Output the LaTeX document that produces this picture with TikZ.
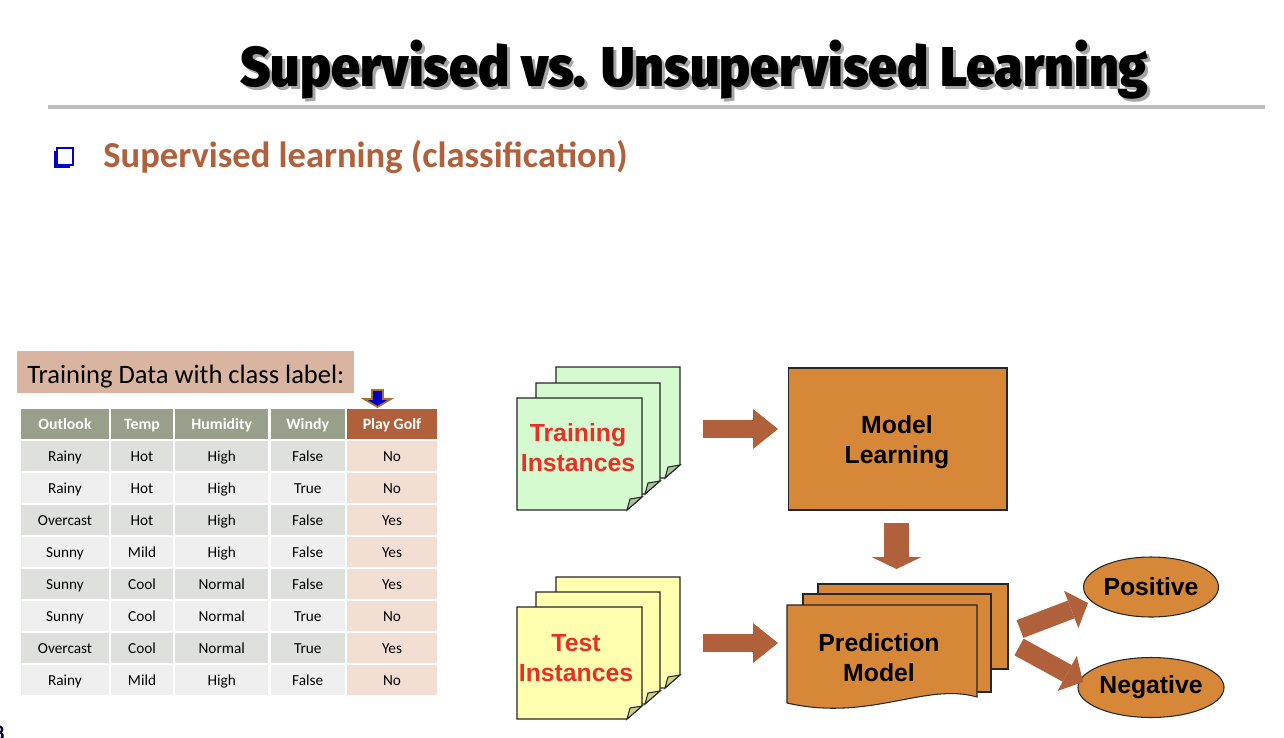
\documentclass[tikz,border=0pt]{standalone}
\usepackage{graphicx}
\usepackage{fontspec}
\setmainfont{Carlito}
\newfontfamily\arialfont{Liberation Sans}
\newfontfamily\titlefont{Fira Sans Black}
\usetikzlibrary{arrows.meta,shapes.geometric}

\definecolor{rust}{RGB}{176,96,58}
\definecolor{ochre}{RGB}{214,135,56}
\definecolor{sage}{RGB}{152,160,139}
\definecolor{rowdark}{RGB}{221,224,219}
\definecolor{rowlight}{RGB}{239,239,239}
\definecolor{pinkcell}{RGB}{242,222,211}
\definecolor{labelfill}{RGB}{217,180,160}
\definecolor{mint}{RGB}{214,250,207}
\definecolor{mintfold}{RGB}{165,195,158}
\definecolor{lemon}{RGB}{255,255,175}
\definecolor{lemonfold}{RGB}{212,206,140}
\definecolor{redtext}{RGB}{232,48,40}
\definecolor{rulegray}{RGB}{190,190,190}
\definecolor{bulletblue}{RGB}{0,0,200}
\definecolor{tipgold}{RGB}{170,115,40}

\tikzset{
  outline/.style={draw=black!85, line width=0.6pt},
  cell/.style={inner sep=0pt, outer sep=0pt, minimum height=0.6cm,
    text height=8pt, text depth=1.4pt,
    font=\fontsize{8.7}{10}\selectfont, text=black},
  hcell/.style={cell, fill=sage, text=white, font=\fontsize{9}{10}\selectfont\bfseries},
  wA/.style={minimum width=1.76cm},
  wB/.style={minimum width=1.24cm},
  wC/.style={minimum width=1.87cm},
  wD/.style={minimum width=1.49cm},
  wE/.style={minimum width=1.80cm},
  boldtxt/.style={align=center, inner sep=0pt,
    font=\arialfont\bfseries\fontsize{14.1}{17}\selectfont},
  fatarrow/.style={draw=rust, line width=0.36cm,
    -{Triangle[length=0.5cm, width=0.8cm, line width'=0pt]}},
  downarrow/.style={draw=rust, line width=0.5cm,
    -{Triangle[length=0.24cm, width=1.0cm, line width'=0pt]}},
  diagarrow/.style={draw=rust, line width=0.38cm,
    -{Triangle[length=0.36cm, width=0.8cm, line width'=0pt]}},
  outcome/.style={ellipse, outline, fill=ochre, minimum width=2.7cm,
    minimum height=1.2cm, inner sep=0pt,
    font=\arialfont\bfseries\fontsize{14.1}{17}\selectfont}
}

% sheet with a folded bottom-right corner: x, y, width, height, fill, fold fill
\newcommand\foldsheet[6]{%
  \filldraw[outline, fill=#5] (#1,#2) -- ++(#3,0) -- ++(0,#4-13) -- ++(-15,13)
    -- ++(-#3+15,0) -- cycle;
  \filldraw[outline, fill=#6] (#1+#3,#2+#4-13) -- (#1+#3-15,#2+#4)
    -- (#1+#3-12,#2+#4-11) -- cycle;
}
\newcommand\headingtext{\resizebox{18.16cm}{0.93cm}{\titlefont Supervised vs. Unsupervised Learning}}

\begin{document}
\begin{tikzpicture}[x=0.02cm, y=-0.02cm]
\useasboundingbox (0,0) rectangle (1284,737);
\clip (0,0) rectangle (1284,737);
\fill[white] (0,0) rectangle (1284,737);

% heading with its drop shadow
\node[anchor=base west, inner sep=0pt, text=black] (title) at (240,86)
  {\rlap{\hspace{0.06cm}\raisebox{-0.06cm}{\color{black!35}\headingtext}}\headingtext};
\draw[rulegray, line width=2pt] (48,107) -- (1265,107);

% bullet line
\fill[bulletblue] (54,151) rectangle (70,168);
\filldraw[draw=bulletblue, line width=0.8pt, fill=white] (57,148) rectangle (73,165);
\node[anchor=base west, inner sep=0pt, text=rust,
  font=\fontsize{20.8}{25}\selectfont\bfseries] (subtitle) at (103,167)
  {Supervised learning (classification)};

% training data table
\node[anchor=north west, fill=labelfill, inner xsep=0.2cm, inner ysep=0pt,
  text height=0.64cm, text depth=0.2cm, font=\fontsize{15.1}{18}\selectfont]
  (label) at (17,351) {Training Data with class label:};
\filldraw[fill=bulletblue, draw=tipgold, line width=1pt]
  (372,390) -- (383,390) -- (383,399) -- (391,399) -- (377.5,407)
  -- (364,399) -- (372,399) -- cycle;

\node[hcell, wA] (h1) at (65,424) {Outlook};
\node[hcell, wB] (h2) at (142,424) {Temp};
\node[hcell, wC] (h3) at (221.75,424) {Humidity};
\node[hcell, wD] (h4) at (307.75,424) {Windy};
\node[hcell, wE, fill=rust] (h5) at (392,424) {Play Golf};

\foreach \r/\va/\vb/\vc/\vd/\ve in {
  1/Rainy/Hot/High/False/No, 2/Rainy/Hot/High/True/No,
  3/Overcast/Hot/High/False/Yes, 4/Sunny/Mild/High/False/Yes,
  5/Sunny/Cool/Normal/False/Yes, 6/Sunny/Cool/Normal/True/No,
  7/Overcast/Cool/Normal/True/Yes, 8/Rainy/Mild/High/False/No}{
  \pgfmathsetmacro\yc{456+32*(\r-1)}
  \ifodd\r\relax\colorlet{rowfill}{rowdark}\else\colorlet{rowfill}{rowlight}\fi
  \node[cell, wA, fill=rowfill] (d\r-1) at (65,\yc) {\va};
  \node[cell, wB, fill=rowfill] (d\r-2) at (142,\yc) {\vb};
  \node[cell, wC, fill=rowfill] (d\r-3) at (221.75,\yc) {\vc};
  \node[cell, wD, fill=rowfill] (d\r-4) at (307.75,\yc) {\vd};
  \node[cell, wE, fill=pinkcell] (d\r-5) at (392,\yc) {\ve};
}

% instance stacks
\foldsheet{556}{367}{124}{111}{mint}{mintfold}
\foldsheet{536}{383}{124}{111}{mint}{mintfold}
\foldsheet{517}{398}{125}{112}{mint}{mintfold}
\node[boldtxt, text=redtext] (train) at (578,448) {Training\\Instances};

\foldsheet{556}{577}{124}{111}{lemon}{lemonfold}
\foldsheet{536}{592}{124}{112}{lemon}{lemonfold}
\foldsheet{517}{607}{125}{112}{lemon}{lemonfold}
\node[boldtxt, text=redtext] (test) at (576,658) {Test\\Instances};

% learner and model
\node[outline, fill=ochre, minimum width=4.38cm, minimum height=2.84cm,
  inner sep=0pt] (learnbox) at (897.5,439) {};
\node[boldtxt] (learn) at (897,442) {Model\\Learning};

\filldraw[outline, fill=ochre] (818,584) rectangle (1008,669);
\filldraw[outline, fill=ochre] (803,594) rectangle (991,692);
\filldraw[outline, fill=ochre] (787,605) -- (977,605) -- (977,697)
  .. controls (925,682) and (870,722) .. (787,703) -- cycle;
\node[boldtxt] (predict) at (879,658) {Prediction\\Model};

\node[outcome] (pos) at (1151,587) {Positive};
\node[outcome] (neg) at (1151,687.5) {Negative};

% flow arrows
\coordinate (trainout) at (703,429);
\coordinate (learnin) at (778,429);
\coordinate (testout) at (703,643);
\coordinate (predin) at (778,643);
\coordinate (learnout) at (896.5,523);
\coordinate (predtop) at (896.5,569);
\coordinate (predup) at (1020,629);
\coordinate (posin) at (1088,603);
\coordinate (preddown) at (1019,647);
\coordinate (negin) at (1083,682);

\draw[fatarrow] (trainout) -- (learnin);
\draw[fatarrow] (testout) -- (predin);
\draw[downarrow] (learnout) -- (predtop);
\draw[diagarrow] (predup) -- (posin);
\draw[diagarrow] (preddown) -- (negin);

% page number at the lower edge
\node[anchor=north east, inner sep=0pt, text=black!85!blue,
  font=\fontsize{12}{12}\selectfont\bfseries] (pagenum) at (5,726) {8};
\end{tikzpicture}
\end{document}
